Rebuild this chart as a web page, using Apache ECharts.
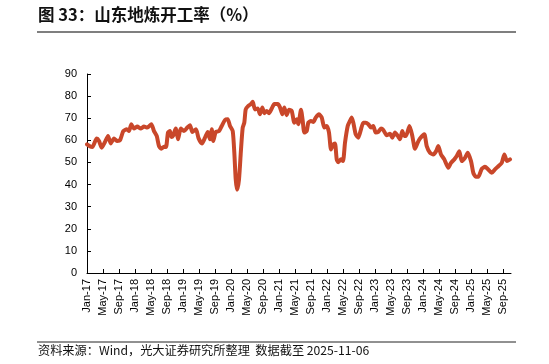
<!DOCTYPE html>
<html><head><meta charset="utf-8">
<script src="https://cdn.jsdelivr.net/npm/echarts@6/dist/echarts.min.js"></script>
<style>html,body{margin:0;padding:0;background:#fff}#c{width:549px;height:364px}</style>
</head><body><div id="c"></div>
<script>
const titleText = '图 33：山东地炼开工率（%）';
const sourceText = '资料来源：Wind，光大证券研究所整理  数据截至 2025-11-06';
const xTickLabels = ['Jan-17','May-17','Sep-17','Jan-18','May-18','Sep-18','Jan-19','May-19','Sep-19',
  'Jan-20','May-20','Sep-20','Jan-21','May-21','Sep-21','Jan-22','May-22','Sep-22',
  'Jan-23','May-23','Sep-23','Jan-24','May-24','Sep-24','Jan-25','May-25','Sep-25'];
const yTicks = [0,10,20,30,40,50,60,70,80,90];
// months elapsed since Jan 2017
const monthOffset = [0,0.93,1.33,2.43,3.0,3.68,4.43,5.25,5.93,6.75,7.58,8.25,9.08,9.93,10.5,11.08,11.75,12.58,13.43,14.25,
  15.08,16.08,16.75,17.43,18.0,18.58,19.25,19.75,20.25,20.75,21.08,21.5,22.18,22.75,23.43,24.25,25.08,25.75,26.33,27.25,
  27.88,28.75,29.5,30.18,30.75,31.18,31.58,32.18,33.0,33.68,34.5,35.18,35.75,36.43,36.83,37.18,37.5,38.0,38.5,38.93,
  39.33,39.68,40.33,41.0,41.43,42.0,42.68,43.25,43.83,44.33,44.93,45.5,46.18,46.83,47.68,48.25,48.83,49.33,49.93,50.5,
  51.18,51.83,52.43,52.83,53.5,53.93,54.33,54.93,55.33,56.0,56.58,57.18,58.0,58.68,59.33,59.93,60.5,61.0,61.58,62.0,
  62.43,62.83,63.5,64.0,64.5,65.18,65.75,66.18,66.58,67.18,67.83,68.5,69.08,69.68,70.33,71.0,71.58,72.18,72.83,73.5,
  74.08,74.93,75.75,76.33,77.0,77.68,78.25,78.83,79.33,79.75,80.63,81.33,82.0,82.68,83.25,84.33,84.93,85.75,86.58,87.25,
  87.83,88.5,89.33,90.33,91.0,91.83,92.43,93.08,93.68,94.5,95.18,96.0,96.58,97.18,97.83,98.68,99.5,100.25,101.18,102.0,
  102.83,103.68,104.33,105.0,105.75];
const utilization = [58.2,57.1,57.0,60.8,59.7,56.7,59.0,62.0,58.6,60.8,59.7,60.0,64.2,65.0,64.2,67.3,65.3,66.2,65.3,66.2,
  65.8,67.3,64.2,62.0,57.4,56.2,57.1,57.0,63.5,64.2,61.5,62.0,65.3,60.5,65.3,64.2,65.8,66.8,63.8,65.0,
  61.0,58.6,61.2,63.8,60.5,65.0,59.7,63.8,64.2,66.5,69.2,69.5,66.5,64.2,54.4,42.3,37.7,42.3,55.9,65.8,
  68.0,74.0,75.6,76.4,77.4,74.0,74.4,71.8,74.9,72.3,73.3,72.3,74.4,76.4,76.4,74.9,71.8,74.9,71.4,73.8,
  73.3,68.0,69.5,67.3,73.8,68.8,63.5,64.2,68.0,68.8,68.3,70.3,71.8,70.3,65.8,66.5,63.5,55.9,58.2,58.6,
  51.4,50.1,51.4,50.6,58.9,66.5,68.8,70.3,68.0,62.7,61.2,65.0,68.0,68.0,67.3,65.8,66.5,63.5,63.8,65.3,
  64.7,62.3,63.0,61.2,63.5,62.0,60.5,64.2,62.0,62.0,66.5,62.0,56.2,59.0,60.8,62.7,57.4,54.4,53.6,55.0,
  57.4,53.6,51.4,47.6,49.8,51.4,52.9,55.1,50.6,52.1,54.4,50.6,45.3,43.5,43.5,47.1,48.0,46.9,45.3,46.9,
  48.3,49.8,53.6,50.6,51.4];

const chart = echarts.init(document.getElementById('c'), null, {renderer: 'canvas'});
const xTickValues = xTickLabels.map((_, i) => i * 4);
const axisFont = 'Liberation Sans, Arial, sans-serif';
chart.setOption({
  animation: false,
  backgroundColor: '#fff',
  grid: {left: 87, right: 38, top: 74, bottom: 91, containLabel: false},
  xAxis: {
    type: 'value', min: 0, max: 106,
    axisLine: {show: true, lineStyle: {color: '#000', width: 1}},
    axisTick: {show: true, inside: true, length: 4, customValues: xTickValues, lineStyle: {color: '#000'}},
    axisLabel: {customValues: xTickValues, rotate: 90, margin: 6, fontSize: 11, color: '#000', fontFamily: axisFont,
      formatter: v => xTickLabels[Math.round(v / 4)] || ''},
    splitLine: {show: false}
  },
  yAxis: {
    type: 'value', min: 0, max: 90, interval: 10,
    axisLine: {show: true, lineStyle: {color: '#000', width: 1}},
    axisTick: {show: true, inside: true, length: 4, lineStyle: {color: '#000'}},
    axisLabel: {margin: 10, fontSize: 11, color: '#000', fontFamily: axisFont,
      formatter: v => yTicks.includes(v) ? String(v) : ''},
    splitLine: {show: false}
  },
  series: [{
    type: 'line',
    data: monthOffset.map((m, i) => [m, utilization[i]]),
    showSymbol: false,
    smooth: 0.2,
    lineStyle: {color: '#C9472A', width: 4, join: 'round', cap: 'round'}
  }],
  graphic: [
    {type: 'text', left: 38, top: 6, style: {text: titleText, fontSize: 16.5, fontWeight: 'bold', fill: '#111',
      fontFamily: '"Noto Sans CJK SC", sans-serif'}},
    {type: 'line', shape: {x1: 37, y1: 32, x2: 516, y2: 32}, style: {stroke: '#555', lineWidth: 1.5}},
    {type: 'line', shape: {x1: 37, y1: 342, x2: 516, y2: 342}, style: {stroke: '#222', lineWidth: 1}},
    {type: 'text', left: 38, top: 344, style: {text: sourceText, fontSize: 12.2, fill: '#111',
      fontFamily: '"Noto Sans CJK SC", sans-serif'}}
  ]
});
</script></body></html>
